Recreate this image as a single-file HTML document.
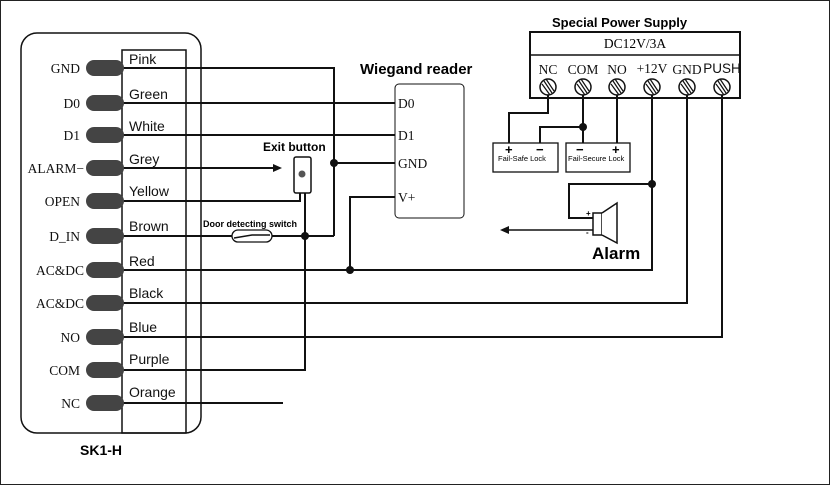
<!DOCTYPE html>
<html><head><meta charset="utf-8"><style>
html,body{margin:0;padding:0;background:#fff}
svg{display:block}
.s{font-family:"Liberation Serif",serif;font-size:13.5px}
.a{font-family:"Liberation Sans",sans-serif}
</style></head><body>
<svg width="830" height="485" viewBox="0 0 830 485" xmlns="http://www.w3.org/2000/svg">
<rect x="0.5" y="0.5" width="829" height="484" fill="#fff" stroke="#222"/>
<g stroke="#111" stroke-width="2" fill="none">
<rect x="21" y="33" width="180" height="400" rx="16" stroke-width="1.5"/>
<rect x="122" y="50" width="64" height="383" stroke-width="1.5"/>
<path d="M122 68H334V236"/>
<path d="M334 163H395"/>
<path d="M122 103H395M122 135H395"/>
<path d="M122 168H278"/>
<path d="M122 201H300V193"/>
<path d="M122 236H232M272 236H334"/>
<path d="M305 193V370H122"/>
<path d="M122 270H652V95"/>
<path d="M350 270V197H395"/>
<path d="M122 303H687V95"/>
<path d="M122 337H722V95"/>
<path d="M122 403H283"/>
<rect x="530" y="32" width="210" height="66" stroke-width="2"/>
<path d="M530 55H740" stroke-width="1.5"/>
<path d="M548 95V113H509V143M583 95V143M583 127H540V143M617 95V143"/>
<path d="M652 184H569V218H593"/>
<path d="M593 230H505" stroke-width="1.5"/>
</g>
<polygon points="500,230 509,226 509,234" fill="#111"/>
<polygon points="282,168 273,164 273,172" fill="#111"/>
<g fill="#111">
<circle cx="334" cy="163" r="4"/><circle cx="305" cy="236" r="4"/>
<circle cx="350" cy="270" r="4"/><circle cx="583" cy="127" r="4"/><circle cx="652" cy="184" r="4"/>
</g>
<g fill="#444">
<rect x="86" y="60" width="38" height="16" rx="8"/><rect x="86" y="95" width="38" height="16" rx="8"/>
<rect x="86" y="127" width="38" height="16" rx="8"/><rect x="86" y="160" width="38" height="16" rx="8"/>
<rect x="86" y="193" width="38" height="16" rx="8"/><rect x="86" y="228" width="38" height="16" rx="8"/>
<rect x="86" y="262" width="38" height="16" rx="8"/><rect x="86" y="295" width="38" height="16" rx="8"/>
<rect x="86" y="329" width="38" height="16" rx="8"/><rect x="86" y="362" width="38" height="16" rx="8"/>
<rect x="86" y="395" width="38" height="16" rx="8"/>
</g>
<g class="s" text-anchor="end" fill="#111">
<text x="80" y="73">GND</text><text x="80" y="108">D0</text><text x="80" y="140">D1</text>
<text x="84" y="173">ALARM−</text><text x="80" y="206">OPEN</text><text x="80" y="241">D_IN</text>
<text x="84" y="275">AC&amp;DC</text><text x="84" y="308">AC&amp;DC</text><text x="80" y="342">NO</text>
<text x="80" y="375">COM</text><text x="80" y="408">NC</text>
</g>
<g class="a" font-size="14" fill="#111">
<text x="129" y="64">Pink</text><text x="129" y="99">Green</text><text x="129" y="131">White</text>
<text x="129" y="164">Grey</text><text x="129" y="196">Yellow</text><text x="129" y="231">Brown</text>
<text x="129" y="266">Red</text><text x="129" y="298">Black</text><text x="129" y="332">Blue</text>
<text x="129" y="364">Purple</text><text x="129" y="397">Orange</text>
</g>
<text x="80" y="455" class="a" font-size="14" font-weight="bold">SK1-H</text>
<text x="263" y="151" class="a" font-size="12" font-weight="bold">Exit button</text>
<rect x="294" y="157" width="17" height="36" rx="2" fill="#fff" stroke="#111" stroke-width="1.5"/>
<circle cx="302" cy="174" r="3.5" fill="#555"/>
<text x="203" y="227" class="a" font-size="9" font-weight="bold">Door detecting switch</text>
<rect x="232" y="230" width="40" height="12" rx="6" fill="#fff" stroke="#111" stroke-width="1.3"/>
<path d="M234 238L252 235H270" stroke="#111" stroke-width="1.5" fill="none"/>
<text x="360" y="74" class="a" font-size="15" font-weight="bold">Wiegand reader</text>
<rect x="395" y="84" width="69" height="134" rx="4" fill="#fff" stroke="#111" stroke-width="1"/>
<g class="s" font-size="13" fill="#111"><text x="398" y="108">D0</text><text x="398" y="140">D1</text><text x="398" y="168">GND</text><text x="398" y="202">V+</text></g>
<text x="552" y="27" class="a" font-size="13" font-weight="bold">Special Power Supply</text>
<text x="635" y="48" class="s" font-size="13" text-anchor="middle">DC12V/3A</text>
<g class="s" font-size="11" text-anchor="middle" fill="#111">
<text x="548" y="74">NC</text><text x="583" y="74">COM</text><text x="617" y="74">NO</text>
<text x="652" y="73">+12V</text><text x="687" y="74">GND</text><text x="722" y="73" class="a">PUSH</text>
</g>
<g stroke="#111" stroke-width="1.5" fill="#fff">
<circle cx="548" cy="87" r="8"/><circle cx="583" cy="87" r="8"/><circle cx="617" cy="87" r="8"/>
<circle cx="652" cy="87" r="8"/><circle cx="687" cy="87" r="8"/><circle cx="722" cy="87" r="8"/>
</g>
<g stroke="#111" stroke-width="1.2">
<path d="M544 81L552 93M542 84L550 95M546 79L554 91"/>
<path d="M579 81L587 93M577 84L585 95M581 79L589 91"/>
<path d="M613 81L621 93M611 84L619 95M615 79L623 91"/>
<path d="M648 81L656 93M646 84L654 95M650 79L658 91"/>
<path d="M683 81L691 93M681 84L689 95M685 79L693 91"/>
<path d="M718 81L726 93M716 84L724 95M720 79L728 91"/>
</g>
<rect x="493" y="143" width="65" height="29" fill="#fff" stroke="#111" stroke-width="1.3"/>
<rect x="566" y="143" width="64" height="29" fill="#fff" stroke="#111" stroke-width="1.3"/>
<g class="a" font-size="7.5"><text x="498" y="161">Fail-Safe Lock</text><text x="568" y="161">Fail-Secure Lock</text></g>
<g class="a" font-size="13" font-weight="bold"><text x="505" y="154">+</text><text x="536" y="154">−</text><text x="576" y="154">−</text><text x="612" y="154">+</text></g>
<rect x="593" y="213" width="9" height="22" fill="#fff" stroke="#111" stroke-width="1.5"/>
<path d="M602 213L617 203V243L602 235" fill="#fff" stroke="#111" stroke-width="1.5"/>
<text x="586" y="216" class="a" font-size="8" font-weight="bold">+</text>
<text x="586" y="235" class="a" font-size="8" font-weight="bold">-</text>
<text x="592" y="259" class="a" font-size="17" font-weight="bold">Alarm</text>
</svg>
</body></html>
